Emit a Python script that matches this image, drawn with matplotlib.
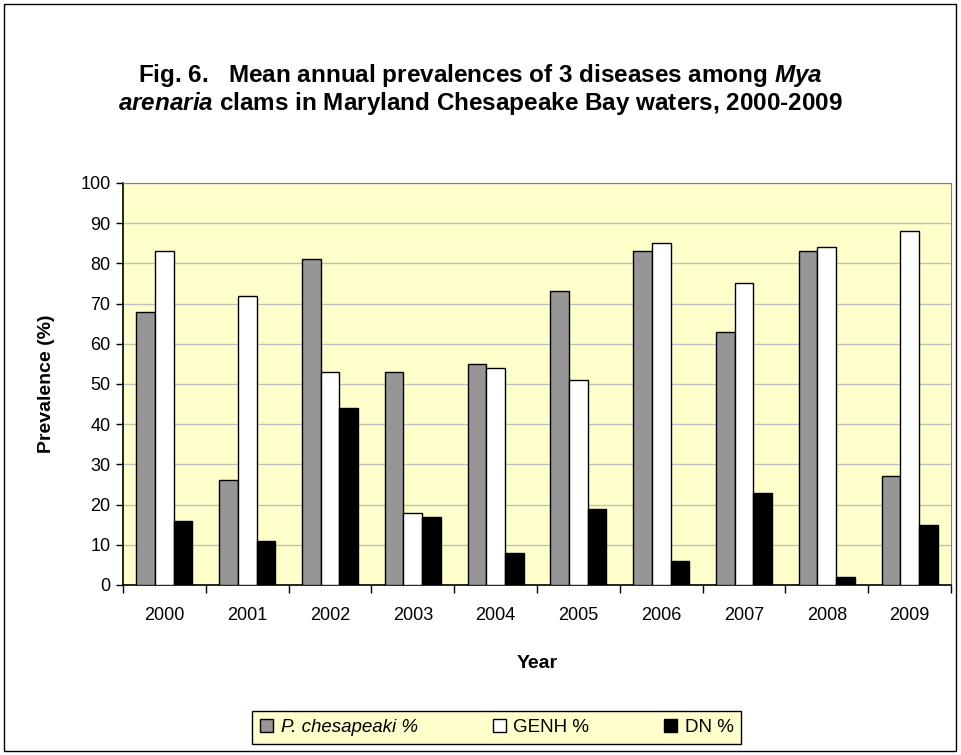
import matplotlib
matplotlib.use("Agg")
import matplotlib.pyplot as plt
import numpy as np
from matplotlib.patches import Rectangle

years = ["2000", "2001", "2002", "2003", "2004", "2005", "2006", "2007", "2008", "2009"]
p_ches = [68, 26, 81, 53, 55, 73, 83, 63, 83, 27]
genh = [83, 72, 53, 18, 54, 51, 85, 75, 84, 88]
dn = [16, 11, 44, 17, 8, 19, 6, 23, 2, 15]
yticks = [0, 10, 20, 30, 40, 50, 60, 70, 80, 90, 100]

plt.rcParams['font.family'] = ['Liberation Sans', 'DejaVu Sans']
plt.rcParams['mathtext.fontset'] = 'custom'
plt.rcParams['mathtext.rm'] = 'Liberation Sans:bold'
plt.rcParams['mathtext.it'] = 'Liberation Sans:italic:bold'
plt.rcParams['mathtext.bf'] = 'Liberation Sans:bold'

fig = plt.figure(figsize=(9.61, 7.55), dpi=100)
fig.patch.set_facecolor('white')
fig.patches.append(Rectangle((0.004, 0.005), 0.991, 0.990, transform=fig.transFigure,
                             fill=False, edgecolor='black', linewidth=1.0))

ax = fig.add_axes([0.128, 0.2252, 0.8616, 0.5325])
ax.set_facecolor('#FFFFCC')

x = np.arange(len(years))
w = 0.225
ax.bar(x - w, p_ches, w, color='#969696', edgecolor='black', linewidth=1.0, label='P. chesapeaki %', zorder=3)
ax.bar(x, genh, w, color='white', edgecolor='black', linewidth=1.0, label='GENH %', zorder=3)
ax.bar(x + w, dn, w, color='black', edgecolor='black', linewidth=1.0, label='DN %', zorder=3)

ax.set_xlim(-0.5, len(years) - 0.5)
ax.set_ylim(0, 100)
ax.set_yticks(yticks)
ax.set_yticklabels([str(v) for v in yticks], fontsize=13)
ax.set_xticks(x)
ax.set_xticklabels(years, fontsize=13)
ax.set_xticks(np.arange(-0.5, len(years), 1.0), minor=True)
ax.tick_params(axis='x', which='major', length=0, pad=16)
ax.tick_params(axis='x', which='minor', length=6, direction='out', width=1)
ax.tick_params(axis='y', length=5, direction='out', width=1, pad=4)
ax.yaxis.grid(True, color='#C0C0C0', linewidth=1.0, zorder=0)
ax.set_axisbelow(True)
for s in ['top', 'right']:
    ax.spines[s].set_color('#808080')
for s in ['left', 'bottom']:
    ax.spines[s].set_color('black')
    ax.spines[s].set_linewidth(1.2)

ax.set_ylabel('Prevalence (%)', fontsize=14, fontweight='bold', labelpad=18)
ax.set_xlabel('Year', fontsize=14, fontweight='bold', labelpad=22)

fig.text(0.5, 0.900, r'Fig. 6.   Mean annual prevalences of 3 diseases among $\it{Mya}$',
         ha='center', va='center', fontsize=17.5, fontweight='bold')
fig.text(0.5, 0.863, r'$\it{arenaria}$ clams in Maryland Chesapeake Bay waters, 2000-2009',
         ha='center', va='center', fontsize=17.5, fontweight='bold')

leg = fig.legend(loc='center', bbox_to_anchor=(0.517, 0.0365), ncol=3, fontsize=13.5,
                 frameon=True, fancybox=False, edgecolor='black', facecolor='#FFFFCC',
                 framealpha=1, handlelength=0.7, handleheight=0.7, columnspacing=4.0,
                 handletextpad=0.4, borderpad=0.4)
leg.get_frame().set_linewidth(1.0)
leg.get_texts()[0].set_fontstyle('italic')

fig.savefig('out.png', dpi=100, facecolor='white')
